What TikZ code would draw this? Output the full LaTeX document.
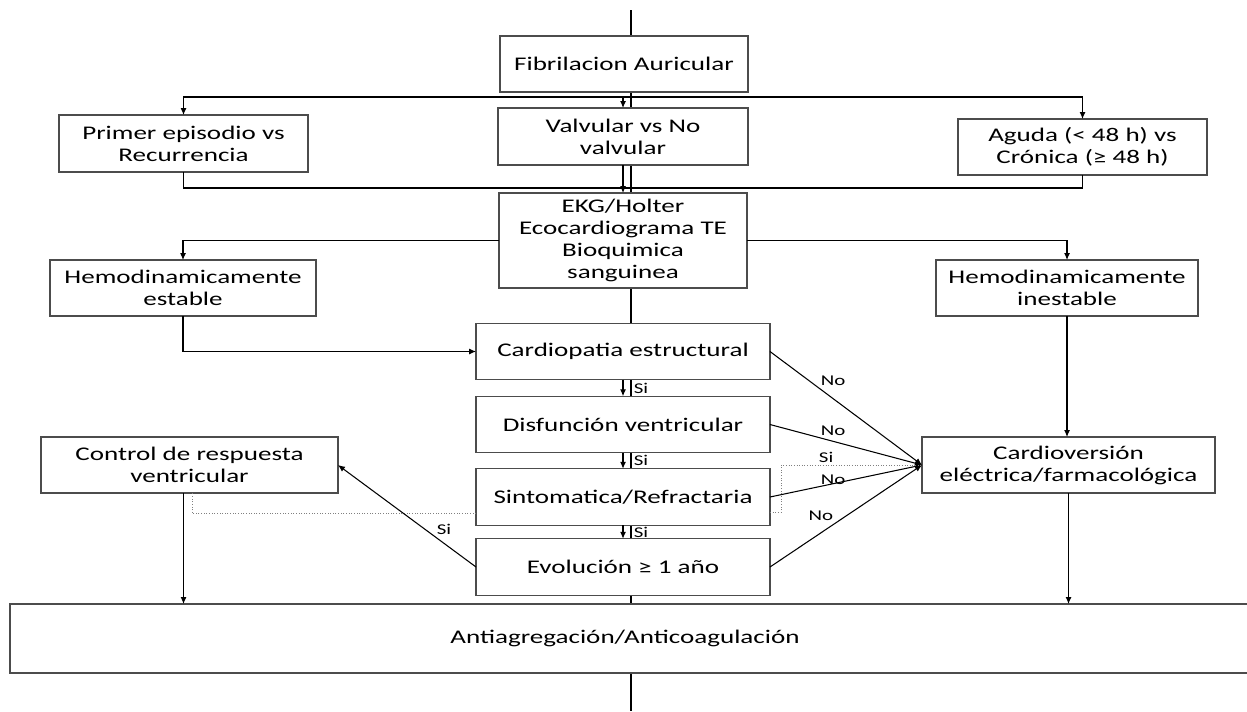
\documentclass[tikz,border=0pt]{standalone}
\usepackage{fontspec}
\setmainfont{Carlito}[FakeStretch=1.4]
\usetikzlibrary{arrows.meta}
\begin{document}
\begin{tikzpicture}[x=0.02cm,y=-0.02cm,
  caja/.style={draw=black!70,line width=0.8pt,fill=white,align=center,inner sep=2pt,outer sep=0pt,font=\fontsize{11}{12.5}\selectfont},
  flecha/.style={-{Latex[length=1.4mm,width=1.2mm]},line width=0.6pt},
  linea/.style={line width=0.6pt},
  punteado/.style={densely dotted,black!50,line width=0.5pt},
  lbl/.style={font=\fontsize{8.5}{9}\selectfont,inner sep=1pt}]
\useasboundingbox (0,0) rectangle (1247,711);
\coordinate (arriba) at (631,10);
\coordinate (abajo) at (631,711);
\draw[linea] (arriba) -- (abajo);

\node[caja,minimum width=4.96cm,minimum height=1.12cm] (fa) at (624,64) {Fibrilacion Auricular};
\node[caja,minimum width=4.98cm,minimum height=1.14cm] (pe) at (183.5,143.5) {Primer episodio vs\\Recurrencia};
\node[caja,minimum width=5cm,minimum height=1.14cm] (vv) at (623,136.5) {Valvular vs No\\valvular};
\node[caja,minimum width=4.98cm,minimum height=1.12cm] (ag) at (1082.5,147) {Aguda (< 48 h) vs\\Crónica (≥ 48 h)};
\node[caja,minimum width=4.96cm,minimum height=1.9cm] (ekg) at (623,240.5) {EKG/Holter\\Ecocardiograma TE\\Bioquimica\\sanguinea};
\node[caja,minimum width=5.32cm,minimum height=1.12cm] (he) at (183,288) {Hemodinamicamente\\estable};
\node[caja,minimum width=5.24cm,minimum height=1.12cm] (hi) at (1067,288) {Hemodinamicamente\\inestable};
\foreach \nom/\yy/\txt in {cp/351.5/Cardiopatia estructural,dv/424.5/Disfunción ventricular,sr/497/{Sintomatica/Refractaria},ev/567/Evolución ≥ 1 año}
{
    \node[caja,minimum width=5.88cm,minimum height=1.13cm] (\nom) at (623,\yy) {\txt};
}
\node[caja,minimum width=5.94cm,minimum height=1.12cm] (cr) at (189.5,465) {Control de respuesta\\ventricular};
\node[caja,minimum width=5.86cm,minimum height=1.12cm] (cv) at (1068.5,465) {Cardioversión\\eléctrica/farmacológica};
\node[caja,minimum width=25.2cm,minimum height=1.38cm,anchor=west] (aa) at (10,638.5) {};
\node[font=\fontsize{11}{12.5}\selectfont] (aatxt) at (625,638.5) {Antiagregación/Anticoagulación};

\coordinate (r1) at (631,97);
\coordinate (r2) at (631,188);
\draw[flecha] (r1) -| (pe.north);
\draw[flecha] (r1) -| (ag.north);
\draw[flecha] (vv.north |- r1) -- (vv.north);
\draw[linea] (pe.south) |- (r2);
\draw[linea] (ag.south) |- (r2);
\draw[flecha] (vv.south) -- (ekg.north);
\draw[flecha] (ekg.west) -| (he.north);
\draw[flecha] (ekg.east) -| (hi.north);
\draw[flecha] (he.south) |- (cp.west);
\foreach \a/\b in {cp/dv,dv/sr,sr/ev}
{
    \draw[flecha] (\a.south) -- node[lbl,right=0.17cm]{Si} (\b.north);
}
\foreach \a in {cp,dv,sr}
{
    \draw[flecha] (\a.east) -- node[lbl,pos=0.32,anchor=south west]{No} (cv.west);
}
\draw[flecha] (ev.east) -- node[lbl,pos=0.43,anchor=south east]{No} (cv.west);
\draw[punteado] ([yshift=0.26cm]sr.south east) -- ++(11,0) |- node[lbl,pos=0.66,above,text=black]{Si} (cv.west);
\draw[punteado] ([yshift=0.24cm]sr.south west) -| ([xshift=0.05cm]cr.south);
\draw[flecha] (ev.west) -- node[lbl,pos=0.3,anchor=south west]{Si} (cr.east);
\draw[flecha] ([xshift=-0.12cm]cr.south) -- ++(0,111);
\draw[flecha] (hi.south) -- (hi.south |- cv.north);
\draw[flecha] (cv.south) -- (cv.south |- aa.north);
\end{tikzpicture}
\end{document}
